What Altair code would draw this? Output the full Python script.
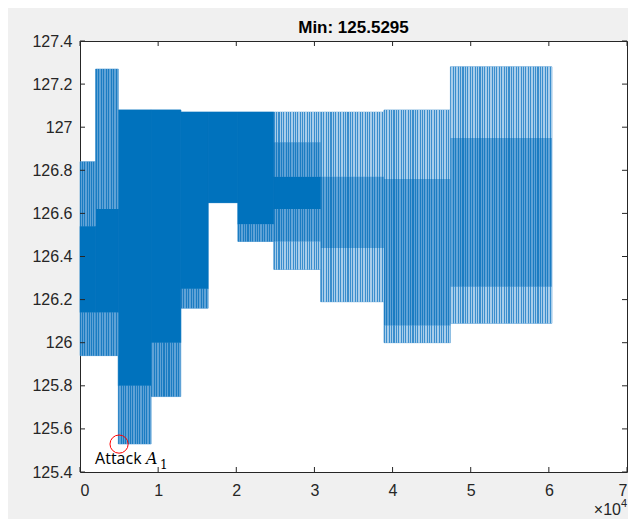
import altair as alt
import pandas as pd

# ---- data (x in samples, y in value) ----
seg_start = [0, 2000, 4900, 9100, 12900, 16400, 20200, 24800, 30800, 38900, 47400]
seg_end = [2000, 4900, 9100, 12900, 16400, 20200, 24800, 30800, 38900, 47400, 60400]
seg_low = [125.94, 125.94, 125.53, 125.75, 126.16, 126.65, 126.47, 126.34, 126.19, 126.00, 126.09]
seg_high = [126.84, 127.27, 127.08, 127.08, 127.07, 127.07, 127.07, 127.07, 127.07, 127.08, 127.28]

band_seg = [0, 0, 0, 1, 1, 1, 2, 2, 3, 3, 4, 4, 5, 6, 6,
            7, 7, 7, 7, 7, 8, 8, 8, 9, 9, 9, 10, 10, 10]
band_lo = [125.94, 126.14, 126.54, 125.94, 126.14, 126.62, 125.53, 125.80,
           125.75, 126.00, 126.16, 126.25, 126.65, 126.47, 126.55,
           126.34, 126.47, 126.62, 126.77, 126.93, 126.19, 126.44, 126.77,
           126.00, 126.08, 126.76, 126.09, 126.26, 126.95]
band_hi = [126.14, 126.54, 126.84, 126.14, 126.62, 127.27, 125.80, 127.08,
           126.00, 127.08, 126.25, 127.07, 127.07, 126.55, 127.07,
           126.47, 126.62, 126.77, 126.93, 127.07, 126.44, 126.77, 127.07,
           126.08, 126.76, 127.08, 126.26, 126.95, 127.28]
band_shade = ["M", "D", "M", "M", "D", "M", "M", "D", "M", "D", "M", "D", "D", "M", "D",
              "L", "M", "D", "M", "L", "L", "M", "L", "L", "M", "L", "L", "M", "L"]

x_ticks = [0, 10000, 20000, 30000, 40000, 50000, 60000, 70000]
y_ticks = [125.4, 125.6, 125.8, 126.0, 126.2, 126.4, 126.6, 126.8, 127.0, 127.2, 127.4]

min_x = [5000]
min_y = [125.5295]
title_text = "Min: 125.5295"

# ---- styling ----
W, H = 547, 431
AX = "#262626"
XMAX = 70000
SOLID = {"D": "#0072BD"}
STRIPE = {"M": ("#1A7CC2", "#5FA2D6"), "L": ("#3A8ECD", "#A8CDEA")}
PITCH = 2.4  # px per drawn line

bands = pd.DataFrame({
    "seg": band_seg,
    "x0": [seg_start[s] for s in band_seg],
    "x1": [seg_end[s] for s in band_seg],
    "lo": band_lo, "hi": band_hi, "shade": band_shade,
})
segs = pd.DataFrame({"x0": seg_start, "x1": seg_end, "lo": seg_low, "hi": seg_high})

xs = alt.Scale(domain=[0, XMAX], nice=False, zero=False)
ys = alt.Scale(domain=[125.4, 127.4], nice=False, zero=False)

x_axis = alt.Axis(values=x_ticks, labelExpr="datum.value / 10000", ticks=False,
                  domain=False, grid=False, title=None, labelFontSize=16,
                  labelColor=AX, labelFont="Liberation Sans", labelPadding=10)
y_axis = alt.Axis(values=y_ticks, labelExpr="replace(format(datum.value, '.1f'), '.0', '')",
                  ticks=False, domain=False, grid=False, title=None, labelFontSize=16,
                  labelColor=AX, labelFont="Liberation Sans", labelPadding=8)

enc = dict(
    x=alt.X("x0:Q", scale=xs, axis=x_axis),
    x2="x1:Q",
    y=alt.Y("lo:Q", scale=ys, axis=y_axis),
    y2="hi:Q",
)

layers = []
# base under every segment (hides anti-aliasing seams)
layers.append(alt.Chart(segs).mark_rect(color="#4C97D2", stroke="#4C97D2", strokeWidth=0.6).encode(**enc))

# solid dense bands
for sh, col in SOLID.items():
    sub = bands[bands.shade == sh]
    layers.append(alt.Chart(sub).mark_rect(color=col, stroke=col, strokeWidth=0.5).encode(**enc))


def stripes(n, a, b):
    stops = []
    for i in range(n):
        stops += [
            {"offset": i / n, "color": a},
            {"offset": (i + 0.45) / n, "color": a},
            {"offset": (i + 0.45) / n, "color": b},
            {"offset": (i + 1) / n, "color": b},
        ]
    return alt.LinearGradient(gradient="linear", x1=0, x2=1, y1=0, y2=0, stops=stops)


# striped (sparse line) bands, one layer per segment so the line pitch stays constant
for s in range(len(seg_start)):
    wpx = (seg_end[s] - seg_start[s]) / XMAX * W
    n = max(1, round(wpx / PITCH))
    for sh, (a, b) in STRIPE.items():
        sub = bands[(bands.seg == s) & (bands.shade == sh)]
        if len(sub) == 0:
            continue
        layers.append(alt.Chart(sub).mark_rect(fill=stripes(n, a, b), strokeWidth=0).encode(**enc))

xt = pd.DataFrame({"t": x_ticks})
yt = pd.DataFrame({"t": y_ticks})
layers += [
    alt.Chart(xt).mark_rule(color=AX, strokeWidth=1).encode(
        x=alt.X("t:Q", scale=xs), y=alt.value(H), y2=alt.value(H - 5)),
    alt.Chart(xt).mark_rule(color=AX, strokeWidth=1).encode(
        x=alt.X("t:Q", scale=xs), y=alt.value(0), y2=alt.value(5)),
    alt.Chart(yt).mark_rule(color=AX, strokeWidth=1).encode(
        y=alt.Y("t:Q", scale=ys), x=alt.value(0), x2=alt.value(5)),
    alt.Chart(yt).mark_rule(color=AX, strokeWidth=1).encode(
        y=alt.Y("t:Q", scale=ys), x=alt.value(W), x2=alt.value(W - 5)),
]

mn = pd.DataFrame({"x": min_x, "y": min_y, "title": [title_text]})
pos = dict(x=alt.X("x:Q", scale=xs), y=alt.Y("y:Q", scale=ys))
layers += [
    alt.Chart(mn).mark_point(shape="circle", filled=False, color="#FF0000",
                             size=330, strokeWidth=1, opacity=1).encode(**pos),
    alt.Chart(mn).mark_text(text="Attack", font="Open Sans", fontSize=16, align="left",
                            baseline="alphabetic", color="#000000", dx=-24, dy=20).encode(**pos),
    alt.Chart(mn).mark_text(text="A", font="DejaVu Serif", fontStyle="italic", fontSize=16,
                            align="left", baseline="alphabetic", color="#000000",
                            dx=27, dy=20).encode(**pos),
    alt.Chart(mn).mark_text(text="1", font="DejaVu Serif", fontSize=12, align="left",
                            baseline="alphabetic", color="#000000", dx=41, dy=25).encode(**pos),
    alt.Chart(mn).mark_text(text="\u00d710", font="Liberation Sans", fontSize=16,
                            align="right", baseline="alphabetic", color=AX).encode(
        x=alt.value(W - 6), y=alt.value(H + 43)),
    alt.Chart(mn).mark_text(text="4", font="Liberation Sans", fontSize=11,
                            align="left", baseline="alphabetic", color=AX).encode(
        x=alt.value(W - 6), y=alt.value(H + 35)),
    alt.Chart(mn).mark_text(font="Liberation Sans", fontSize=17, fontWeight="bold",
                            align="center", baseline="alphabetic", color="#000000").encode(
        text="title:N", x=alt.value(W / 2), y=alt.value(-8)),
]

chart = alt.layer(*layers).properties(
    width=W, height=H,
    autosize=alt.AutoSizeParams(type="none"),
    padding={"left": 72, "top": 33, "right": 1, "bottom": 47},
    background="#F0F0F0",
).configure_view(
    fill="#FFFFFF", stroke=AX, strokeWidth=1
)

chart.save("out.html", embed_options={"renderer": "svg", "actions": False})
